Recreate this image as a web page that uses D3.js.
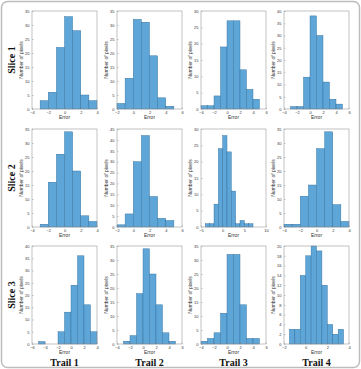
<!DOCTYPE html>
<html>
<head>
<meta charset="utf-8">
<script src="https://cdn.jsdelivr.net/npm/d3@7"></script>
<style>
  html, body { margin: 0; padding: 0; background: #fff; }
  svg { display: block; }
  .tick text { font-family: "Liberation Sans", Arial, sans-serif; font-size: 4px; fill: #333; }
  .axlab { font-family: "Liberation Sans", Arial, sans-serif; font-size: 5px; fill: #333; }
  .rowlab, .collab { font-family: "Liberation Serif", "Times New Roman", serif; font-weight: bold; font-size: 10px; fill: #111; }
</style>
</head>
<body>
<svg id="chart" width="361" height="369"></svg>
<script>
// panel titles
var slices = ["Slice 1", "Slice 2", "Slice 3"];
var trails = ["Trail 1", "Trail 2", "Trail 3", "Trail 4"];

// histogram counts per panel (slice x trail), bins
var s1t1 = [3, 6, 22, 33, 28, 5, 3];
var s1t2 = [2, 11, 32, 31, 19, 4, 1];
var s1t3 = [1, 1, 4, 19, 27, 27, 12, 6, 3];
var s1t4 = [1, 1, 13, 38, 30, 11, 4, 2];
var s2t1 = [1, 16, 26, 34, 20, 4, 2];
var s2t2 = [1, 6, 30, 42, 14, 4, 3];
var s2t3 = [1, 1, 7, 24, 28, 23, 11, 1, 2, 1, 1];
var s2t4 = [1, 1, 11, 15, 28, 34, 8, 2];
var s3t1 = [1, 0, 0, 5, 13, 24, 36, 16, 5];
var s3t2 = [1, 3, 18, 34, 25, 14, 4, 1];
var s3t3 = [1, 2, 4, 11, 32, 32, 14, 2, 2];
var s3t4 = [3, 3, 14, 18, 20, 19, 12, 4, 2, 3];

var counts = [
  [s1t1, s1t2, s1t3, s1t4],
  [s2t1, s2t2, s2t3, s2t4],
  [s3t1, s3t2, s3t3, s3t4]
];
// first bin edge and bin width
var binStarts = [[-3, -2, -4, -3], [-3, -2, -4, -4], [-5, -3, -4, -1.5]];
var binWidths = [[1, 1, 1, 1], [1, 1, 1, 1], [1, 1, 1, 0.5]];
// axis ranges and tick steps
var xDomains = [
  [[-4, 4], [-2, 6], [-4, 6], [-4, 6]],
  [[-4, 4], [-2, 6], [-5, 10], [-4, 4]],
  [[-6, 4], [-4, 6], [-4, 6], [-2, 4]]
];
var xSteps = [[2, 2, 2, 2], [2, 2, 5, 2], [2, 2, 2, 2]];
var yMaxes = [[35, 35, 30, 40], [35, 45, 30, 35], [40, 35, 35, 20]];
var ySteps = [[5, 5, 5, 5], [5, 5, 5, 5], [5, 5, 5, 2]];

var colLefts = [32, 117, 201, 284],
  rowTops = [11, 129, 246],
  plotW = 65,
  plotH = 98,
  barFill = "#5ea5d8",
  barStroke = "#2c6a98";

var svg = d3.select("#chart");

svg.append("rect")
  .attr("x", 1.5).attr("y", 1.5)
  .attr("width", 358).attr("height", 366)
  .attr("rx", 6)
  .attr("fill", "none")
  .attr("stroke", "#bdbdbd")
  .attr("stroke-width", 1.5);

var range = function(a, b, step) {
  var out = [], v;
  for (v = a; v <= b + 1e-9; v += step) out.push(+v.toFixed(6));
  return out;
};

counts.forEach(function(row, r) {
  row.forEach(function(vals, c) {
    var x = d3.scaleLinear().domain(xDomains[r][c]).range([0, plotW]),
      y = d3.scaleLinear().domain([0, yMaxes[r][c]]).range([plotH, 0]),
      g = svg.append("g")
        .attr("transform", "translate(" + colLefts[c] + "," + rowTops[r] + ")"),
      bins = vals.map(function(v, i) {
        var x0 = binStarts[r][c] + i * binWidths[r][c];
        return { x0: x0, x1: x0 + binWidths[r][c], n: v };
      });

    g.append("rect")
      .attr("width", plotW).attr("height", plotH)
      .attr("fill", "#fff");

    g.selectAll(".bar")
      .data(bins.filter(function(d) { return d.n > 0; }))
      .enter().append("rect")
      .attr("class", "bar")
      .attr("x", function(d) { return x(d.x0); })
      .attr("width", function(d) { return x(d.x1) - x(d.x0); })
      .attr("y", function(d) { return y(d.n); })
      .attr("height", function(d) { return y(0) - y(d.n); })
      .attr("fill", barFill)
      .attr("stroke", barStroke)
      .attr("stroke-width", 0.4);

    var xa = d3.axisBottom(x)
        .tickValues(range(xDomains[r][c][0], xDomains[r][c][1], xSteps[r][c]))
        .tickSize(-1.5).tickPadding(2.5)
        .tickFormat(d3.format("d")),
      ya = d3.axisLeft(y)
        .tickValues(range(0, yMaxes[r][c], ySteps[r][c]))
        .tickSize(-1.5).tickPadding(2.5)
        .tickFormat(d3.format("d"));

    var gx = g.append("g").attr("transform", "translate(0," + plotH + ")").call(xa),
      gy = g.append("g").call(ya);
    [gx, gy].forEach(function(a) {
      a.select(".domain").remove();
      a.selectAll(".tick line").attr("stroke", "#777").attr("stroke-width", 0.4);
    });

    g.append("rect")
      .attr("width", plotW).attr("height", plotH)
      .attr("fill", "none")
      .attr("stroke", "#9a9a9a")
      .attr("stroke-width", 0.6);

    g.append("text")
      .attr("class", "axlab")
      .attr("x", plotW / 2).attr("y", plotH + 10)
      .attr("text-anchor", "middle")
      .text("Error");

    g.append("text")
      .attr("class", "axlab")
      .attr("transform", "translate(-9," + plotH / 2 + ") rotate(-90)")
      .attr("text-anchor", "middle")
      .text("Number of pixels");
  });
});

slices.forEach(function(s, r) {
  svg.append("text")
    .attr("class", "rowlab")
    .attr("transform", "translate(15," + (rowTops[r] + plotH / 2) + ") rotate(-90)")
    .attr("text-anchor", "middle")
    .text(s);
});

trails.forEach(function(t, c) {
  svg.append("text")
    .attr("class", "collab")
    .attr("x", colLefts[c] + plotW / 2)
    .attr("y", 366)
    .attr("text-anchor", "middle")
    .text(t);
});
</script>
</body>
</html>
